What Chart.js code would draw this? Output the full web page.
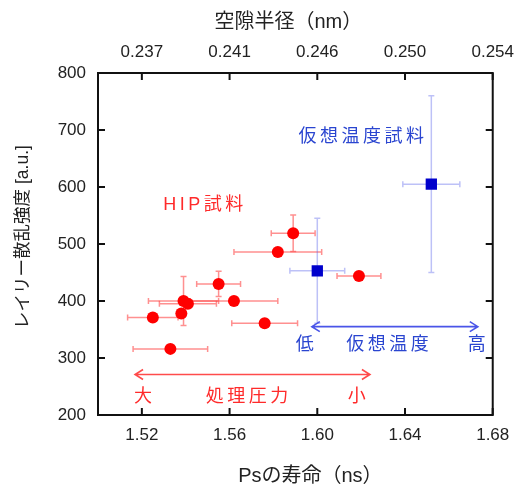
<!DOCTYPE html>
<html><head><meta charset="utf-8">
<script src="https://cdn.jsdelivr.net/npm/chart.js@4.4.1/dist/chart.umd.min.js"></script>
<style>html,body{margin:0;padding:0;background:#fff}#wrap{width:524px;height:488px}</style>
</head><body><div id="wrap"><canvas id="c" width="524" height="488"></canvas></div>
<script>
// ---- data ----
const xTicks = [1.52, 1.56, 1.60, 1.64, 1.68];
const topTickLabels = ['0.237', '0.241', '0.246', '0.250', '0.254'];
const yTicks = [200, 300, 400, 500, 600, 700, 800];

const hipX    = [1.589, 1.582, 1.555, 1.562, 1.539, 1.541, 1.538, 1.525, 1.576, 1.533, 1.619];
const hipY    = [519, 486, 430, 400, 400, 395, 378, 371, 361, 316, 444];
const hipXErr = [0.010, 0.020, 0.010, 0.020, 0.016, 0.013, 0, 0.0115, 0.015, 0.017, 0.010];
const hipYErr = [32, 0, 22, 0, 43, 0, 0, 0, 0, 0, 0];

const ftX    = [1.600, 1.652];
const ftY    = [453, 605];
const ftXErr = [0.0125, 0.013];
const ftYErr = [92, 155];

const xTitle  = 'Psの寿命（ns）';
const x2Title = '空隙半径（nm）';
const yTitle  = 'レイリー散乱強度 [a.u.]';
const labelsRed  = ['HIP試料', '大', '処理圧力', '小'];
const labelsBlue = ['仮想温度試料', '低', '仮想温度', '高'];

// ---- annotation placement (data coords) ----
const redTextPos  = [[1.548, 568], [1.5205, 232], [1.568, 232], [1.618, 232]];
const blueTextPos = [[1.620, 688], [1.5943, 323], [1.632, 323], [1.6727, 323]];
const redArrow  = [1.5169, 1.6240, 271];
const blueArrow = [1.5975, 1.6732, 355];

const TICKFONT = "'Liberation Sans', Arial, 'Noto Sans CJK JP', sans-serif";
const CJK = "'Liberation Sans', 'Noto Sans CJK JP', sans-serif";

function pts(xs, ys){ return xs.map((x,i)=>({x:x, y:ys[i]})); }

function errBars(ctx, xs, sc, ys, xe, ye, color){
  const X = sc.x, Y = sc.y;
  ctx.save(); ctx.strokeStyle = color; ctx.lineWidth = 1.5;
  const cap = 3;
  xs.forEach((x,i)=>{
    const px = X.getPixelForValue(x), py = Y.getPixelForValue(ys[i]);
    if (xe[i] > 0){
      const a = X.getPixelForValue(x - xe[i]), b = X.getPixelForValue(x + xe[i]);
      ctx.beginPath(); ctx.moveTo(a,py); ctx.lineTo(b,py);
      ctx.moveTo(a,py-cap); ctx.lineTo(a,py+cap); ctx.moveTo(b,py-cap); ctx.lineTo(b,py+cap); ctx.stroke();
    }
    if (ye[i] > 0){
      const a = Y.getPixelForValue(ys[i] - ye[i]), b = Y.getPixelForValue(ys[i] + ye[i]);
      ctx.beginPath(); ctx.moveTo(px,a); ctx.lineTo(px,b);
      ctx.moveTo(px-cap,a); ctx.lineTo(px+cap,a); ctx.moveTo(px-cap,b); ctx.lineTo(px+cap,b); ctx.stroke();
    }
  });
  ctx.restore();
}

function dblArrow(ctx, x1, x2, y, color){
  ctx.save(); ctx.strokeStyle = color; ctx.lineWidth = 1.6;
  ctx.beginPath(); ctx.moveTo(x1,y); ctx.lineTo(x2,y);
  ctx.moveTo(x1+8,y-5); ctx.lineTo(x1,y); ctx.lineTo(x1+8,y+5);
  ctx.moveTo(x2-8,y-5); ctx.lineTo(x2,y); ctx.lineTo(x2-8,y+5);
  ctx.stroke(); ctx.restore();
}

function txt(ctx, s, x, y, color, size, spacing, rot){
  ctx.save(); ctx.fillStyle = color; ctx.font = size + "px " + CJK;
  try { ctx.letterSpacing = spacing + 'px'; } catch(e){}
  ctx.textAlign = 'center'; ctx.textBaseline = 'middle';
  ctx.translate(x, y); if (rot) ctx.rotate(rot);
  ctx.fillText(s, spacing / 2, 0); ctx.restore();
}

const overlay = {
  id: 'overlay',
  beforeDatasetsDraw(chart){
    const ctx = chart.ctx, sc = chart.scales;
    errBars(ctx, hipX, sc, hipY, hipXErr, hipYErr, 'rgba(255,70,70,0.6)');
    errBars(ctx, ftX, sc, ftY, ftXErr, ftYErr, 'rgba(90,100,235,0.4)');
  },
  afterDraw(chart){
    const ctx = chart.ctx, a = chart.chartArea, X = chart.scales.x, Y = chart.scales.y;
    ctx.save();
    ctx.strokeStyle = '#111'; ctx.lineWidth = 2;
    ctx.strokeRect(a.left, a.top, a.right - a.left, a.bottom - a.top);
    ctx.beginPath();
    xTicks.forEach(v=>{ const p = X.getPixelForValue(v);
      ctx.moveTo(p, a.bottom); ctx.lineTo(p, a.bottom - 7);
      ctx.moveTo(p, a.top); ctx.lineTo(p, a.top + 7); });
    yTicks.forEach(v=>{ const p = Y.getPixelForValue(v);
      ctx.moveTo(a.left, p); ctx.lineTo(a.left + 7, p);
      ctx.moveTo(a.right, p); ctx.lineTo(a.right - 7, p); });
    ctx.stroke(); ctx.restore();

    // axis titles
    const cx = (a.left + a.right) / 2;
    txt(ctx, xTitle, cx + 15, a.bottom + 61, '#222', 20, 0);
    txt(ctx, x2Title, cx - 7, a.top - 51, '#222', 20, 0);
    txt(ctx, yTitle, 23, (a.top + a.bottom) / 2 - 7, '#222', 17.5, 0, -Math.PI / 2);

    dblArrow(ctx, X.getPixelForValue(redArrow[0]), X.getPixelForValue(redArrow[1]), Y.getPixelForValue(redArrow[2]), '#ff4b4b');
    dblArrow(ctx, X.getPixelForValue(blueArrow[0]), X.getPixelForValue(blueArrow[1]), Y.getPixelForValue(blueArrow[2]), '#4a55e8');
    labelsRed.forEach((s,i)=> txt(ctx, s, X.getPixelForValue(redTextPos[i][0]), Y.getPixelForValue(redTextPos[i][1]), '#ff2a2a', 18, 3.5));
    labelsBlue.forEach((s,i)=> txt(ctx, s, X.getPixelForValue(blueTextPos[i][0]), Y.getPixelForValue(blueTextPos[i][1]), '#2a45d0', 18, 3.5));
  }
};

new Chart(document.getElementById('c'), {
  type: 'scatter',
  data: { datasets: [
    { label: 'HIP試料', data: pts(hipX, hipY), backgroundColor: '#ff0000', borderColor: '#ff0000',
      pointRadius: 6, pointHoverRadius: 6, borderWidth: 0 },
    { label: '仮想温度試料', data: pts(ftX, ftY), backgroundColor: '#0000cc', borderColor: '#0000cc',
      pointStyle: 'rect', pointRadius: 8, pointHoverRadius: 8, borderWidth: 0 }
  ]},
  options: {
    responsive: false, animation: false, events: [],
    layout: { padding: { right: 31, left: 0, top: 0, bottom: 0 } },
    plugins: { legend: { display: false }, tooltip: { enabled: false } },
    scales: {
      x: { type: 'linear', position: 'bottom', min: 1.50, max: 1.68,
        afterBuildTicks: s => { s.ticks = xTicks.map(v=>({value:v})); },
        afterFit: s => { s.height = 73; },
        grid: { display: false, drawTicks: false }, border: { display: false },
        ticks: { padding: 10, color: '#222', font: { size: 17, family: TICKFONT }, callback: v => v.toFixed(2), maxRotation: 0 } },
      x2: { type: 'linear', position: 'top', min: 1.50, max: 1.68,
        afterBuildTicks: s => { s.ticks = xTicks.map(v=>({value:v})); },
        afterFit: s => { s.height = 73; },
        grid: { display: false, drawTicks: false }, border: { display: false },
        ticks: { padding: 10, color: '#222', font: { size: 17, family: TICKFONT }, maxRotation: 0,
          callback: v => { const i = xTicks.findIndex(t => Math.abs(t - v) < 1e-6); return i >= 0 ? topTickLabels[i] : ''; } } },
      y: { type: 'linear', position: 'left', min: 200, max: 800,
        afterBuildTicks: s => { s.ticks = yTicks.map(v=>({value:v})); },
        afterFit: s => { s.width = 98; },
        grid: { display: false, drawTicks: false }, border: { display: false },
        ticks: { padding: 12, color: '#222', font: { size: 17, family: TICKFONT } } }
    }
  },
  plugins: [overlay]
});
</script></body></html>
